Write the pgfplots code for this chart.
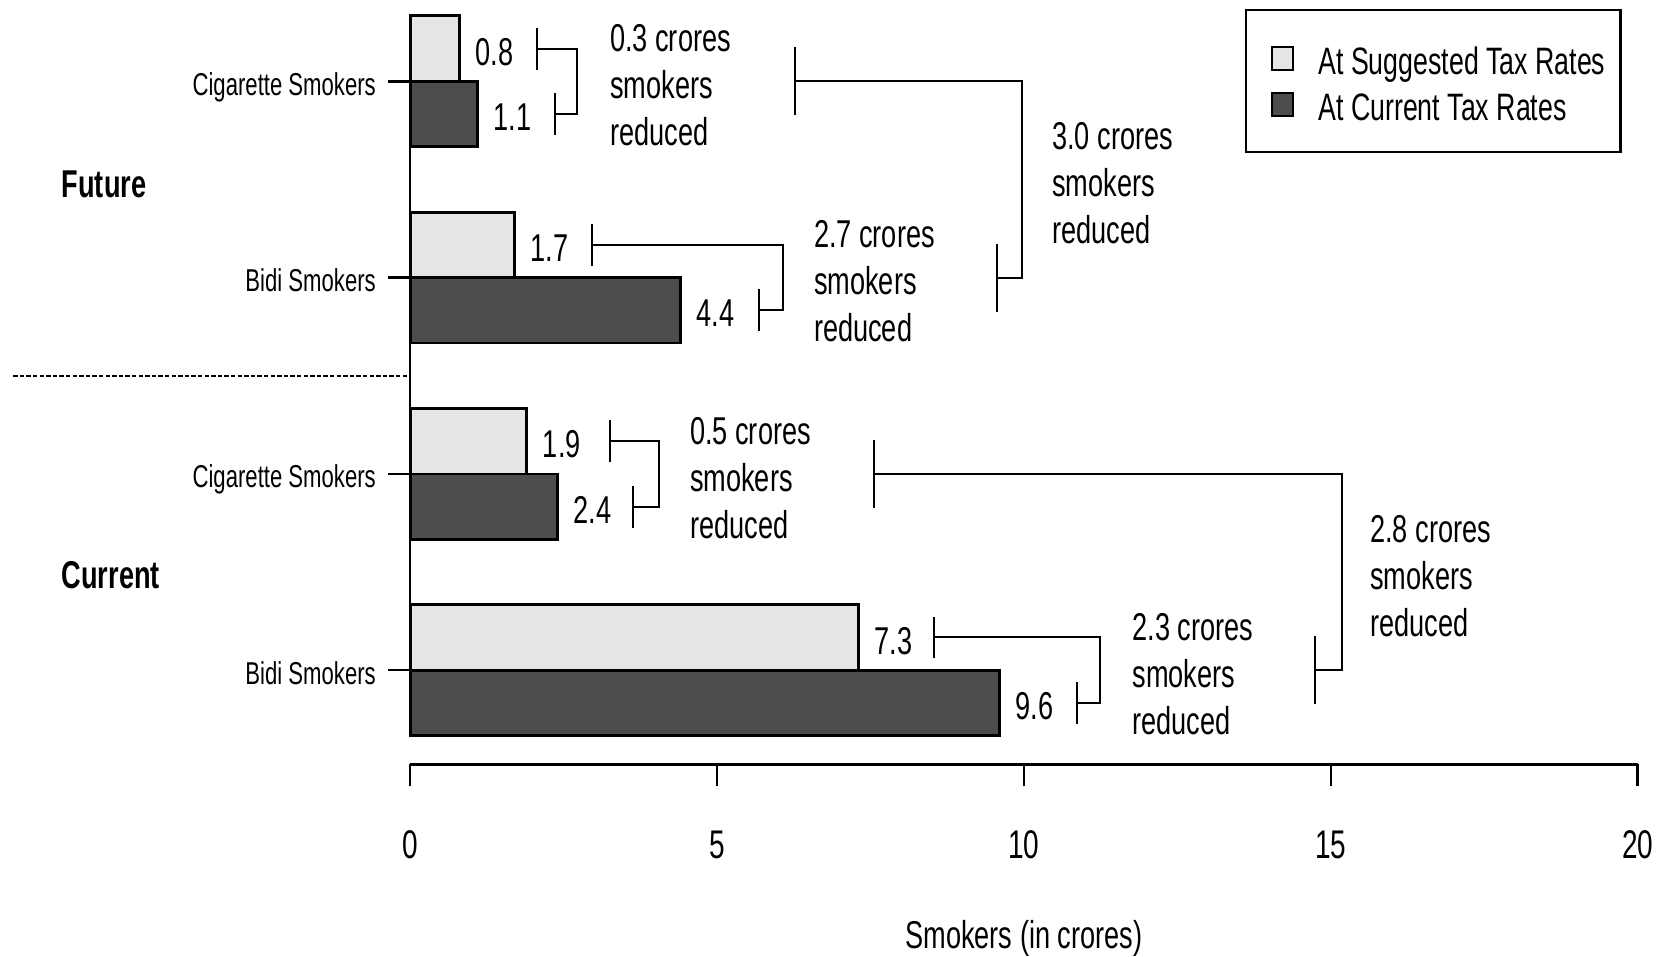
\documentclass[border=0pt]{standalone}
\usepackage{fontspec}
\setmainfont{Liberation Sans}[FakeStretch=0.70]
\usepackage{pgfplots}
\pgfplotsset{compat=1.18}
\definecolor{lightbar}{HTML}{E5E5E5}
\definecolor{darkbar}{HTML}{4D4D4D}
\newcommand{\fs}[1]{\fontsize{#1}{#1}\selectfont}
\begin{document}
\begin{tikzpicture}[
  br/.style={line width=0.5pt, black},
  txt/.style={anchor=west, align=left, inner sep=0pt, font=\fontsize{9.7}{11.75}\selectfont},
]
\begin{axis}[
  x=15.3425pt, y=16.3575pt,
  xmin=0, xmax=20, ymin=-0.44, ymax=11.44,
  clip=false,
  axis x line*=bottom, axis y line*=left,
  y axis line style={draw=none},
  x axis line style={line width=0.6pt},
  every tick/.style={black, line width=0.6pt},
  tick align=outside, major tick length=5.5pt,
  xtick={0,5,10,15,20},
  ytick={1,4,7,10},
  yticklabels={Bidi Smokers, Cigarette Smokers, Bidi Smokers, Cigarette Smokers},
  /pgf/number format/assume math mode=true,
  xticklabel style={font=\fs{10}, anchor=base, inner sep=0pt, yshift=-17.9pt},
  yticklabel style={font=\fs{7.9}, anchor=base east, inner sep=0pt, xshift=-2.9pt, yshift=-3.5pt},
  xlabel={Smokers (in crores)},
  xlabel style={font=\fs{9.7}, at={(axis description cs:0.5,-0.2362)}, anchor=base, inner sep=0pt},
  xbar, bar width=1,
  point meta=x,
  nodes near coords,
  every node near coord/.append style={font=\fs{9.7}, anchor=west, inner sep=0pt, xshift=3.7pt, yshift=-0.8pt, black},
  legend style={at={(0.987,0.9720)}, anchor=north east, draw=black, line width=0.65pt, fill=white,
    inner xsep=3.75pt, inner ysep=7.55pt, font=\fs{9.55},
    nodes={inner sep=0pt, text depth=0pt, text height=8.56pt, anchor=base west}, column sep=6pt, row sep=2.55pt},
]
\draw[line width=0.6pt] (axis cs:0,1) -- (axis cs:0,10);

\addplot[fill=lightbar, draw=black, line width=0.7pt, bar shift=0.5,
  legend image code/.code={\path (0pt,0pt); \draw[fill=lightbar, draw=black, line width=0.55pt] (2.35pt,1.1pt) rectangle (7.75pt,6.9pt);}]
  coordinates {(0.8,10) (1.7,7) (1.9,4) (7.3,1)};
\addlegendentry{At Suggested Tax Rates}
\addplot[fill=darkbar, draw=black, line width=0.7pt, bar shift=-0.5,
  legend image code/.code={\path (0pt,0pt); \draw[fill=darkbar, draw=black, line width=0.55pt] (2.35pt,1.1pt) rectangle (7.75pt,6.9pt);}]
  coordinates {(1.1,10) (4.4,7) (2.4,4) (9.6,1)};
\addlegendentry{At Current Tax Rates}

% dashed separator
\draw[line width=0.5pt, dash pattern=on 1.1pt off 0.55pt] (axis cs:-6.47,5.5) -- (axis cs:0,5.5);

% group labels
\node[anchor=west, inner sep=0pt, font=\bfseries\fs{9.7}] at (axis cs:-5.69,8.43) {Future};
\node[anchor=west, inner sep=0pt, font=\bfseries\fs{9.7}] at (axis cs:-5.69,2.45) {Current};

% small bracket 1 (future cigarette)
\draw[br] (axis cs:2.071,10.18) -- (axis cs:2.071,10.82);
\draw[br] (axis cs:2.071,10.5) -- (axis cs:2.723,10.5) -- (axis cs:2.723,9.5) -- (axis cs:2.359,9.5);
\draw[br] (axis cs:2.359,9.18) -- (axis cs:2.359,9.82);
\node[txt] at (axis cs:3.245,9.94) {0.3 crores\\smokers\\reduced};

% small bracket 2 (future bidi)
\draw[br] (axis cs:2.968,7.18) -- (axis cs:2.968,7.82);
\draw[br] (axis cs:2.968,7.5) -- (axis cs:6.07,7.5) -- (axis cs:6.07,6.5) -- (axis cs:5.684,6.5);
\draw[br] (axis cs:5.684,6.18) -- (axis cs:5.684,6.82);
\node[txt] at (axis cs:6.568,6.94) {2.7 crores\\smokers\\reduced};

% small bracket 3 (current cigarette)
\draw[br] (axis cs:3.256,4.18) -- (axis cs:3.256,4.82);
\draw[br] (axis cs:3.256,4.5) -- (axis cs:4.06,4.5) -- (axis cs:4.06,3.5) -- (axis cs:3.635,3.5);
\draw[br] (axis cs:3.635,3.18) -- (axis cs:3.635,3.82);
\node[txt] at (axis cs:4.548,3.94) {0.5 crores\\smokers\\reduced};

% small bracket 4 (current bidi)
\draw[br] (axis cs:8.54,1.18) -- (axis cs:8.54,1.82);
\draw[br] (axis cs:8.54,1.5) -- (axis cs:11.24,1.5) -- (axis cs:11.24,0.5) -- (axis cs:10.86,0.5);
\draw[br] (axis cs:10.86,0.18) -- (axis cs:10.86,0.82);
\node[txt] at (axis cs:11.757,0.94) {2.3 crores\\smokers\\reduced};

% big bracket A (future total)
\draw[br] (axis cs:6.27,9.48) -- (axis cs:6.27,10.52);
\draw[br] (axis cs:6.27,10) -- (axis cs:9.964,10) -- (axis cs:9.964,7) -- (axis cs:9.557,7);
\draw[br] (axis cs:9.557,6.48) -- (axis cs:9.557,7.52);
\node[txt] at (axis cs:10.45,8.44) {3.0 crores\\smokers\\reduced};

% big bracket B (current total)
\draw[br] (axis cs:7.557,3.48) -- (axis cs:7.557,4.52);
\draw[br] (axis cs:7.557,4) -- (axis cs:15.18,4) -- (axis cs:15.18,1) -- (axis cs:14.74,1);
\draw[br] (axis cs:14.74,0.48) -- (axis cs:14.74,1.52);
\node[txt] at (axis cs:15.63,2.44) {2.8 crores\\smokers\\reduced};

\coordinate (bbsw) at (axis cs:-6.684,-3.368);
\coordinate (bbne) at (axis cs:20.398,11.243);
\end{axis}
\pgfresetboundingbox
\useasboundingbox (bbsw) rectangle (bbne);
\end{tikzpicture}
\end{document}
